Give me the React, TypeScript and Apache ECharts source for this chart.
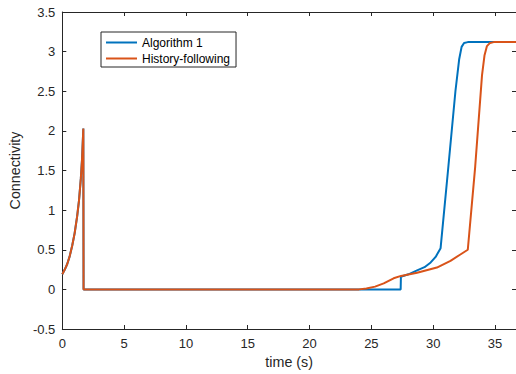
import React, { useEffect, useRef } from "react";
import * as echarts from "echarts";

// Algorithm 1 (blue)
const algTime = [0, 0.2, 0.4, 0.6, 0.8, 1.0, 1.2, 1.35, 1.5, 1.6, 1.7, 1.72, 27.37, 27.39, 28.0, 28.7, 29.3, 29.8, 30.2, 30.6, 31.2, 31.8, 32.1, 32.3, 32.5, 32.8, 36.7];
const algValue = [0.19, 0.25, 0.32, 0.42, 0.55, 0.71, 0.92, 1.12, 1.4, 1.65, 2.03, 0, 0, 0.16, 0.19, 0.24, 0.28, 0.34, 0.41, 0.52, 1.5, 2.5, 2.9, 3.06, 3.11, 3.12, 3.12];

// History-following (orange)
const histTime = [0, 0.2, 0.4, 0.6, 0.8, 1.0, 1.2, 1.35, 1.5, 1.6, 1.7, 1.72, 24.0, 24.6, 25.3, 26.0, 26.8, 27.4, 28.7, 30.3, 31.4, 32.2, 32.8, 33.4, 33.95, 34.15, 34.35, 34.6, 34.9, 36.7];
const histValue = [0.19, 0.25, 0.32, 0.42, 0.55, 0.71, 0.92, 1.12, 1.4, 1.65, 2.03, 0, 0, 0.01, 0.035, 0.075, 0.14, 0.17, 0.21, 0.275, 0.36, 0.44, 0.5, 1.55, 2.7, 2.95, 3.07, 3.11, 3.12, 3.12];

const seriesNames = ["Algorithm 1", "History-following"];
const seriesColors = ["#0072BD", "#D95319"];

const xMin = 0;
const xMax = 36.7;
const yMin = -0.5;
const yMax = 3.5;

const FONT = "'Liberation Sans', Arial, Helvetica, sans-serif";
const AXIS_COLOR = "#262626";

export default function App() {
  const ref = useRef<HTMLDivElement>(null);
  useEffect(() => {
    if (!ref.current) return;
    const chart = echarts.init(ref.current, null, { renderer: "svg" });
    const axisLine = { show: true, onZero: false, lineStyle: { color: AXIS_COLOR, width: 1 } };
    const axisTick = { show: true, inside: true, length: 4, lineStyle: { color: AXIS_COLOR, width: 1 } };
    const zip = (a: number[], b: number[]) => a.map((v, i) => [v, b[i]]);
    chart.setOption({
      animation: false,
      backgroundColor: "#fff",
      textStyle: { fontFamily: FONT },
      grid: { left: 62, top: 12, right: 0, bottom: 42, containLabel: false },
      legend: {
        show: true,
        orient: "vertical",
        left: 101,
        top: 32,
        data: seriesNames,
        icon: "rect",
        borderColor: AXIS_COLOR,
        borderWidth: 1,
        borderRadius: 0,
        backgroundColor: "#fff",
        padding: [4, 6, 2, 5],
        itemGap: 3,
        itemWidth: 31,
        itemHeight: 2,
        textStyle: { fontSize: 12, color: "#000", fontFamily: FONT, lineHeight: 13 },
      },
      xAxis: [
        {
          type: "value",
          min: xMin,
          max: xMax,
          interval: 5,
          position: "bottom",
          name: "time (s)",
          nameLocation: "middle",
          nameGap: 26,
          nameTextStyle: { fontSize: 14.3, color: AXIS_COLOR, fontFamily: FONT },
          axisLine,
          axisTick,
          axisLabel: { show: true, margin: 8, fontSize: 13, color: AXIS_COLOR, fontFamily: FONT, showMaxLabel: false },
          splitLine: { show: false },
        },
        {
          type: "value",
          min: xMin,
          max: xMax,
          interval: 5,
          position: "top",
          axisLine,
          axisTick,
          axisLabel: { show: false },
          splitLine: { show: false },
        },
      ],
      yAxis: [
        {
          type: "value",
          min: yMin,
          max: yMax,
          interval: 0.5,
          position: "left",
          name: "Connectivity",
          nameLocation: "middle",
          nameGap: 37,
          nameTextStyle: { fontSize: 14.3, color: AXIS_COLOR, fontFamily: FONT },
          axisLine,
          axisTick,
          axisLabel: { show: true, margin: 7, fontSize: 13, color: AXIS_COLOR, fontFamily: FONT },
          splitLine: { show: false },
        },
        {
          type: "value",
          min: yMin,
          max: yMax,
          interval: 0.5,
          position: "right",
          axisLine,
          axisTick,
          axisLabel: { show: false },
          splitLine: { show: false },
        },
      ],
      series: [
        {
          name: seriesNames[0],
          type: "line",
          data: zip(algTime, algValue),
          symbol: "none",
          showSymbol: false,
          color: seriesColors[0],
          lineStyle: { color: seriesColors[0], width: 2 },
          xAxisIndex: 0,
          yAxisIndex: 0,
        },
        {
          name: seriesNames[1],
          type: "line",
          data: zip(histTime, histValue),
          symbol: "none",
          showSymbol: false,
          color: seriesColors[1],
          lineStyle: { color: seriesColors[1], width: 2 },
          xAxisIndex: 0,
          yAxisIndex: 0,
        },
      ],
    });
    return () => chart.dispose();
  }, []);
  return (
    <div
      ref={ref}
      style={{ position: "fixed", left: 0, top: 0, width: 516, height: 374, background: "#fff" }}
    />
  );
}
